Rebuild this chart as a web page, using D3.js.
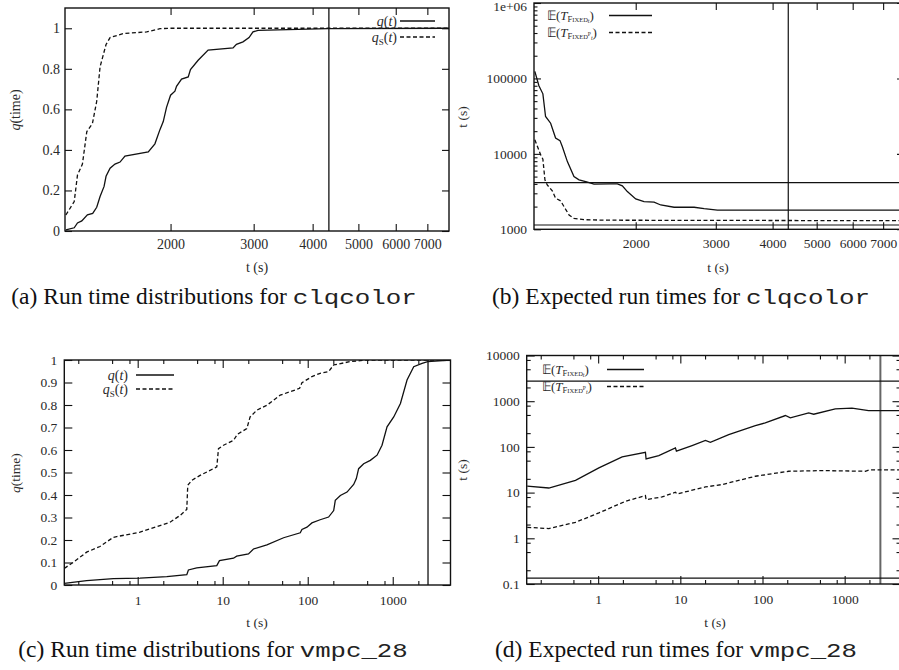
<!DOCTYPE html>
<html>
<head>
<meta charset="utf-8">
<script src="https://cdn.jsdelivr.net/npm/d3@7"></script>
<style>
body { margin: 0; background: #fff; }
svg { display: block; }
</style>
</head>
<body>
<svg id="fig" width="899" height="670"></svg>
<script>
// (a) clqcolor - run time distributions
var clqTimeQ = [1200,1250,1270,1297,1333,1368,1395,1418,1446,1460,1489,1525,1563,1601,1794,1853,1899,1930,1961,2000,2043,2059,2110,2180,2204,2288,2402,2713,2758,2848,2933,2990,3064,4308,7800];
var clqQ     = [0.005,0.016,0.04,0.05,0.08,0.087,0.117,0.17,0.22,0.27,0.31,0.33,0.34,0.37,0.39,0.43,0.50,0.54,0.61,0.67,0.69,0.714,0.749,0.76,0.796,0.842,0.892,0.903,0.921,0.933,0.954,0.982,0.99,0.998,1.0];
var clqTimeQs = [1200,1250,1270,1301,1329,1366,1395,1418,1460,1489,1589,1780,1899,1994,7800];
var clqQs     = [0.079,0.145,0.276,0.33,0.49,0.53,0.64,0.81,0.92,0.954,0.974,0.982,0.998,1.0,1.0];
var clqCutoff = 4330;

// (b) clqcolor - expected run times
var clqExpT  = [1200,1225,1250,1267,1300,1333,1363,1379,1415,1463,1501,1560,1619,1750,1823,1869,1917,2000,2086,2195,2270,2429,2688,2828,3025,7800];
var clqExp   = [124000,80000,62500,31300,25500,16200,15000,12500,7900,5000,4520,4250,3980,4000,4000,3760,3160,2530,2330,2290,2100,1960,1960,1880,1800,1800];
var clqExpTP = [1200,1236,1250,1263,1278,1311,1333,1368,1391,1427,1463,1539,1732,7800];
var clqExpP  = [15400,9700,8490,4520,3870,3230,2580,2380,2000,1550,1400,1340,1320,1300];
var clqHLines = [4160, 1141];

// (c) vmpc_28 - run time distributions
var vmpcTimeQ = [0.137,0.251,0.517,1.065,2.2,3.78,3.95,4.95,8.52,9.16,13.4,14.6,20.1,23.0,33.1,52,81.7,85.5,97.9,112,140,176,202,211,242,290,347,373,397,455,545,654,748,857,1027,1232,1473,1765,2213,2580,4800];
var vmpcQ     = [0.0074,0.019,0.028,0.031,0.037,0.046,0.067,0.076,0.086,0.108,0.119,0.128,0.138,0.160,0.178,0.210,0.232,0.247,0.257,0.276,0.290,0.302,0.331,0.376,0.398,0.413,0.447,0.473,0.517,0.539,0.554,0.577,0.621,0.703,0.747,0.807,0.911,0.970,0.985,0.993,1.0];
var vmpcTimeQs = [0.137,0.175,0.251,0.36,0.517,0.566,1.065,1.83,2.4,3.15,3.78,3.88,4.32,5.42,8.52,8.92,10.2,13.4,14.9,19.2,21.0,25.2,33.1,47.5,62.2,80.2,85.5,112,140,176,202,317,498,4800];
var vmpcQs     = [0.074,0.101,0.146,0.171,0.212,0.215,0.235,0.264,0.279,0.309,0.336,0.443,0.465,0.487,0.525,0.606,0.621,0.643,0.670,0.695,0.747,0.777,0.799,0.844,0.859,0.874,0.899,0.926,0.941,0.948,0.978,0.993,1.0,1.0];
var vmpcCutoffC = 2600;

// (d) vmpc_28 - expected run times
var vmpcExpT  = [0.137,0.251,0.53,1.02,1.96,3.76,3.83,5.47,8.72,8.96,13.9,20.2,23.2,38.8,81.9,108,190,218,365,420,769,1227,1955,4800];
var vmpcExp   = [13.8,12.6,18.6,34.7,60.4,76.4,54.6,64.6,95,80.4,107,138,126,186,293,335,486,431,555,519,679,703,625,625];
var vmpcExpTP = [0.137,0.251,0.53,1.02,2.15,3.76,3.83,6.0,8.72,9.1,20.2,32.2,81.9,208,530,1782,2000,4800];
var vmpcExpP  = [1.74,1.63,2.24,3.59,6.45,8.6,7.03,8.04,10.2,9.35,13.3,15.0,22.8,29.3,30.3,29.3,31.4,31.4];
var vmpcCutoffD = 2720;
var vmpcHLines = [2740, 0.135];

// tick values and labels
var clqXTicks = [2000,3000,4000,5000,6000,7000];
var clqXLabels = ["2000","3000","4000","5000","6000","7000"];
var aYTicks = [0,0.2,0.4,0.6,0.8,1];
var aYLabels = ["0","0.2","0.4","0.6","0.8","1"];
var bYTicks = [1000,10000,100000,1000000];
var bYLabels = ["1000","10000","100000","1e+06"];
var vmpcXTicks = [1,10,100,1000];
var vmpcXLabels = ["1","10","100","1000"];
var cYTicks = [0,0.1,0.2,0.3,0.4,0.5,0.6,0.7,0.8,0.9,1];
var cYLabels = ["0","0.1","0.2","0.3","0.4","0.5","0.6","0.7","0.8","0.9","1"];
var dYTicks = [0.1,1,10,100,1000,10000];
var dYLabels = ["0.1","1","10","100","1000","10000"];

var svg = d3.select("#fig");
var ink = "#111", textInk = "#2a2a2a";
var serif = "'Liberation Serif', 'Times New Roman', serif";
var mono = "'Liberation Mono', 'Courier New', monospace";

function minorTicks(domain, mult) {
	var out = [];
	for (var e = Math.floor(Math.log10(domain[0])); e <= Math.ceil(Math.log10(domain[1])); e++) {
		mult.forEach(function(m) {
			var v = +(m * Math.pow(10, e)).toPrecision(6);
			if (v > domain[0] && v < domain[1]) out.push(v);
		});
	}
	return out;
}

function styleAxis(sel, fs) {
	sel.select(".domain").remove();
	sel.attr("font-family", serif).attr("font-size", fs).attr("color", ink);
	sel.selectAll("line").attr("stroke-width", 1.1);
	sel.selectAll("text").attr("fill", textInk);
}

function drawPanel(p) {
	var x = d3.scaleLog().domain(p.xDomain).range([p.left, p.right]);
	var y = (p.yLog ? d3.scaleLog() : d3.scaleLinear()).domain(p.yDomain).range([p.bottom, p.top]);
	var g = svg.append("g");

	g.append("clipPath").attr("id", "clip-" + p.id)
		.append("rect")
		.attr("x", p.left).attr("y", p.top)
		.attr("width", p.right - p.left).attr("height", p.bottom - p.top);

	// x ticks, bottom (labelled) and top (mirror), all pointing inward
	g.append("g").attr("transform", "translate(0," + p.bottom + ")")
		.call(d3.axisBottom(x).tickValues(p.xTicks).tickSizeInner(-p.major).tickSizeOuter(0)
			.tickPadding(p.xPad).tickFormat(function(d, i) { return p.xLabels[i]; }))
		.call(styleAxis, p.fs);
	g.append("g").attr("transform", "translate(0," + p.top + ")")
		.call(d3.axisTop(x).tickValues(p.xTicks).tickSizeInner(-p.major).tickSizeOuter(0).tickFormat(""))
		.call(styleAxis, p.fs);
	if (p.xMinor) {
		var xm = minorTicks(p.xDomain, p.xMinor);
		g.append("g").attr("transform", "translate(0," + p.bottom + ")")
			.call(d3.axisBottom(x).tickValues(xm).tickSizeInner(-p.minor).tickSizeOuter(0).tickFormat(""))
			.call(styleAxis, p.fs);
		g.append("g").attr("transform", "translate(0," + p.top + ")")
			.call(d3.axisTop(x).tickValues(xm).tickSizeInner(-p.minor).tickSizeOuter(0).tickFormat(""))
			.call(styleAxis, p.fs);
	}

	// y ticks, left (labelled) and right (mirror)
	var yl = g.append("g").attr("transform", "translate(" + p.left + ",0)")
		.call(d3.axisLeft(y).tickValues(p.yTicks).tickSizeInner(-p.major).tickSizeOuter(0)
			.tickPadding(p.yPad).tickFormat(function(d, i) { return p.yLabels[i]; }))
		.call(styleAxis, p.fs);
	if (p.topLabelNudge) {
		// keep the top label inside the page
		yl.selectAll(".tick text").filter(function(d) { return d === p.yDomain[1]; })
			.attr("y", p.topLabelNudge);
	}
	g.append("g").attr("transform", "translate(" + p.right + ",0)")
		.call(d3.axisRight(y).tickValues(p.yTicks).tickSizeInner(-p.major).tickSizeOuter(0).tickFormat(""))
		.call(styleAxis, p.fs);
	if (p.yMinor) {
		var ym = minorTicks(p.yDomain, p.yMinor);
		g.append("g").attr("transform", "translate(" + p.left + ",0)")
			.call(d3.axisLeft(y).tickValues(ym).tickSizeInner(-p.minor).tickSizeOuter(0).tickFormat(""))
			.call(styleAxis, p.fs);
		g.append("g").attr("transform", "translate(" + p.right + ",0)")
			.call(d3.axisRight(y).tickValues(ym).tickSizeInner(-p.minor).tickSizeOuter(0).tickFormat(""))
			.call(styleAxis, p.fs);
	}

	var plot = g.append("g").attr("clip-path", "url(#clip-" + p.id + ")");

	// reference lines
	(p.vLines || []).forEach(function(v) {
		plot.append("line").attr("x1", x(v)).attr("x2", x(v)).attr("y1", p.top).attr("y2", p.bottom)
			.attr("stroke", p.vColor || ink).attr("stroke-width", p.vWidth || 1.3);
	});
	(p.hLines || []).forEach(function(v) {
		plot.append("line").attr("x1", p.left).attr("x2", p.right).attr("y1", y(v)).attr("y2", y(v))
			.attr("stroke", ink).attr("stroke-width", 1.2);
	});

	var line = d3.line().x(function(d) { return x(d[0]); }).y(function(d) { return y(d[1]); });
	p.series.forEach(function(s) {
		plot.append("path").datum(d3.zip(s.t, s.v))
			.attr("d", line)
			.attr("fill", "none")
			.attr("stroke", ink)
			.attr("stroke-width", 1.3)
			.attr("stroke-dasharray", s.dash ? "4,2.5" : null);
	});

	// frame
	g.append("rect").attr("x", p.left).attr("y", p.top)
		.attr("width", p.right - p.left).attr("height", p.bottom - p.top)
		.attr("fill", "none").attr("stroke", ink).attr("stroke-width", 1.4);

	// axis titles
	g.append("text").attr("x", p.xTitle[0]).attr("y", p.xTitle[1]).attr("dy", "0.35em")
		.attr("text-anchor", "middle").attr("font-family", serif).attr("font-size", p.fs)
		.attr("fill", textInk).text("t (s)");
	var yt = g.append("text").attr("transform", "translate(" + p.yTitle[0] + "," + p.yTitle[1] + ") rotate(-90)")
		.attr("dy", "0.35em").attr("text-anchor", "middle").attr("font-family", serif)
		.attr("font-size", p.fs).attr("fill", textInk);
	if (p.yTitleQ) {
		yt.append("tspan").attr("font-style", "italic").text("q");
		yt.append("tspan").text("(time)");
	} else {
		yt.text("t (s)");
	}

	// legend
	p.legend.forEach(function(row) {
		var t = g.append("text").attr("x", row.tx).attr("y", row.y).attr("dy", "0.35em")
			.attr("text-anchor", row.anchor).attr("font-family", serif).attr("font-size", p.legendFs || 14)
			.attr("fill", textInk);
		row.parts.forEach(function(pt) {
			var s = t.append("tspan").text(pt.t);
			if (pt.i) s.attr("font-style", "italic");
			if (pt.fs) s.attr("font-size", pt.fs);
			if (pt.dy) s.attr("dy", pt.dy);
		});
		g.append("line").attr("x1", row.x1).attr("x2", row.x2).attr("y1", row.y).attr("y2", row.y)
			.attr("stroke", ink).attr("stroke-width", 1.3)
			.attr("stroke-dasharray", row.dash ? "4,2.5" : null);
	});
}

var qParts = [{t: "q", i: 1}, {t: "("}, {t: "t", i: 1}, {t: ")"}];
var qsParts = [{t: "q", i: 1}, {t: "S", fs: 9, dy: 3}, {t: "(", dy: -3}, {t: "t", i: 1}, {t: ")"}];
var eParts = [{t: "\u{1D53C}("}, {t: "T", i: 1}, {t: "F", fs: 8.5, dy: 1.5}, {t: "IXED", fs: 6.5}, {t: "t", i: 1, fs: 6, dy: 1}, {t: ")", dy: -2.5}];
var epParts = [{t: "\u{1D53C}("}, {t: "T", i: 1}, {t: "F", fs: 8.5, dy: 1.5}, {t: "IXED", fs: 6.5}, {t: "P", fs: 5.5, dy: -2.5}, {t: "t", i: 1, fs: 6, dy: 3.5}, {t: ")", dy: -2.5}];

drawPanel({
	id: "a", left: 65, right: 449, top: 8, bottom: 231,
	xDomain: [1195, 7780], yDomain: [0, 1.1], yLog: false,
	xTicks: clqXTicks, xLabels: clqXLabels, yTicks: aYTicks, yLabels: aYLabels,
	major: 7, minor: 3.5, xPad: 8, yPad: 5, fs: 14,
	vLines: [clqCutoff],
	series: [{t: clqTimeQ, v: clqQ}, {t: clqTimeQs, v: clqQs, dash: true}],
	xTitle: [257, 267], yTitle: [15, 110], yTitleQ: true,
	legend: [
		{tx: 397, anchor: "end", y: 21, parts: qParts, x1: 400, x2: 435},
		{tx: 397, anchor: "end", y: 37, parts: qsParts, x1: 400, x2: 435, dash: true}
	]
});

drawPanel({
	id: "b", left: 534, right: 904, top: 3, bottom: 229.3,
	xDomain: [1195, 7780], yDomain: [1000, 1000000], yLog: true,
	xTicks: clqXTicks, xLabels: clqXLabels, yTicks: bYTicks, yLabels: bYLabels,
	yMinor: [2,3,4,5,6,7,8,9], topLabelNudge: 3,
	major: 7, minor: 3.5, xPad: 9, yPad: 7, fs: 13.5, legendFs: 13,
	vLines: [clqCutoff], vWidth: 1.2, hLines: clqHLines,
	series: [{t: clqExpT, v: clqExp}, {t: clqExpTP, v: clqExpP, dash: true}],
	xTitle: [718, 267], yTitle: [462, 117], yTitleQ: false,
	legend: [
		{tx: 547, anchor: "start", y: 15.5, parts: eParts, x1: 609, x2: 652},
		{tx: 547, anchor: "start", y: 32.5, parts: epParts, x1: 609, x2: 652, dash: true}
	]
});

drawPanel({
	id: "c", left: 64.3, right: 450.5, top: 360, bottom: 585,
	xDomain: [0.137, 4780], yDomain: [0, 1], yLog: false,
	xTicks: vmpcXTicks, xLabels: vmpcXLabels, yTicks: cYTicks, yLabels: cYLabels,
	xMinor: [2,5,8],
	major: 8, minor: 4, xPad: 10, yPad: 7, fs: 13.5,
	vLines: [vmpcCutoffC],
	series: [{t: vmpcTimeQ, v: vmpcQ}, {t: vmpcTimeQs, v: vmpcQs, dash: true}],
	xTitle: [257, 622], yTitle: [15, 473], yTitleQ: true,
	legend: [
		{tx: 128, anchor: "end", y: 375, parts: qParts, x1: 136, x2: 174},
		{tx: 128, anchor: "end", y: 389, parts: qsParts, x1: 136, x2: 174, dash: true}
	]
});

drawPanel({
	id: "d", left: 526.7, right: 900.5, top: 355.5, bottom: 584,
	xDomain: [0.135, 4780], yDomain: [0.1, 10000], yLog: true,
	xTicks: vmpcXTicks, xLabels: vmpcXLabels, yTicks: dYTicks, yLabels: dYLabels,
	xMinor: [2,5,8], yMinor: [2,5,8],
	major: 8, minor: 4, xPad: 10, yPad: 7, fs: 13.5, legendFs: 13,
	vLines: [vmpcCutoffD], vColor: "#666", vWidth: 2, hLines: vmpcHLines,
	series: [{t: vmpcExpT, v: vmpcExp}, {t: vmpcExpTP, v: vmpcExpP, dash: true}],
	xTitle: [715, 622], yTitle: [462, 470], yTitleQ: false,
	legend: [
		{tx: 542, anchor: "start", y: 369.5, parts: eParts, x1: 607, x2: 644},
		{tx: 542, anchor: "start", y: 386.5, parts: epParts, x1: 607, x2: 644, dash: true}
	]
});

// sub-figure captions, centred under each column: serif text then a typewriter name
function caption(cx, y, label, code, codeLen) {
	var t = svg.append("text").attr("y", y)
		.attr("font-family", serif).attr("font-size", 23.5).attr("fill", ink).text(label);
	var w = t.node().getComputedTextLength();
	var x0 = cx - (w + 6 + codeLen) / 2;
	t.attr("x", x0);
	svg.append("text").attr("x", x0 + w + 6).attr("y", y)
		.attr("font-family", mono).attr("font-size", 21)
		.attr("textLength", codeLen).attr("lengthAdjust", "spacingAndGlyphs")
		.attr("fill", "#222").text(code);
}
caption(214, 304, "(a) Run time distributions for", "clqcolor", 124);
caption(681, 304, "(b) Expected run times for", "clqcolor", 124);
caption(213, 657, "(c) Run time distributions for", "vmpc_28", 108);
caption(676, 657, "(d) Expected run times for", "vmpc_28", 108);
</script>
</body>
</html>
